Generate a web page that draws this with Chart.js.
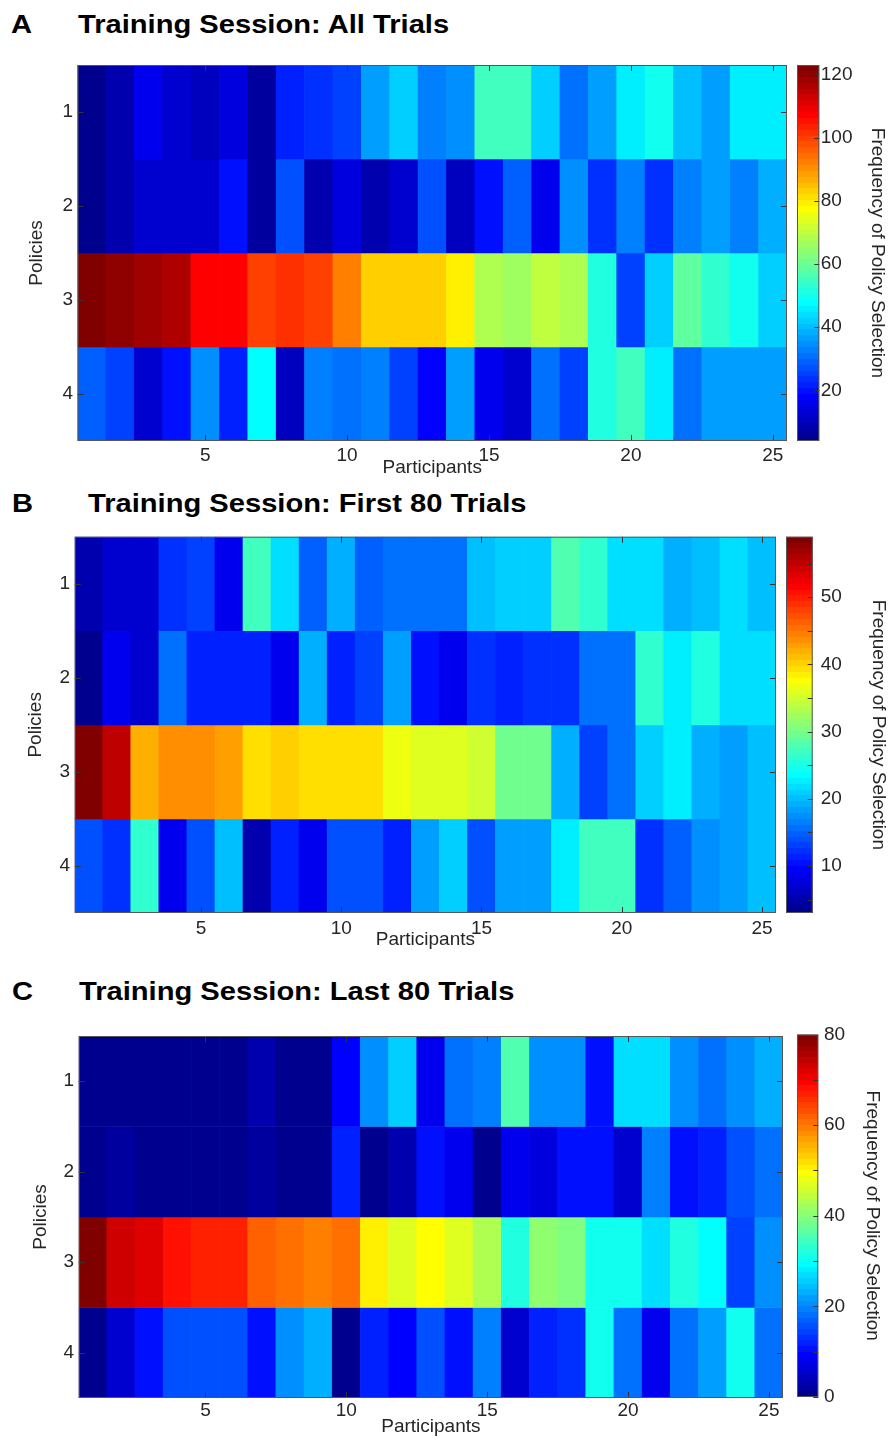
<!DOCTYPE html>
<html><head><meta charset="utf-8">
<script src="https://cdn.jsdelivr.net/npm/chart.js@4.4.1/dist/chart.umd.min.js"></script>
<style>
html,body{margin:0;padding:0;background:#fff;}
body{width:890px;height:1441px;position:relative;overflow:hidden;font-family:'Liberation Sans',Arial,sans-serif;}
canvas{position:absolute;}
.ttl{position:absolute;font-weight:bold;font-size:26px;line-height:26px;white-space:nowrap;transform:scaleX(1.12);transform-origin:0 0;color:#000;}
</style></head><body>
<div class="ttl" style="left:11px;top:11px">A</div>
<div class="ttl" style="left:78px;top:11px">Training Session: All Trials</div>
<div class="ttl" style="left:12px;top:490px">B</div>
<div class="ttl" style="left:88px;top:490px">Training Session: First 80 Trials</div>
<div class="ttl" style="left:12px;top:978px">C</div>
<div class="ttl" style="left:79px;top:978px">Training Session: Last 80 Trials</div>
<script>
// ---------- data ----------
const participants = ['1','2','3','4','5','6','7','8','9','10','11','12','13','14','15','16','17','18','19','20','21','22','23','24','25'];
const policies = [1, 2, 3, 4];
const xTickLabels = ['5','10','15','20','25'];
const yTickLabels = ['1','2','3','4'];

// A: all trials
const allP1 = [5,8,16,13,10,15,7,21,24,25,37,42,33,35,56,55,42,31,37,45,50,40,37,45,45];
const allP2 = [4,8,13,12,12,19,7,28,9,15,8,13,28,10,19,30,17,35,23,33,23,33,36,33,39];
const allP3 = [123,121,118,116,108,108,99,102,99,93,83,83,83,79,68,66,70,69,52,26,43,58,53,49,43];
const allP4 = [30,25,13,19,34,21,48,11,33,31,33,25,18,37,17,12,31,26,52,56,46,31,37,36,36];
const allRange = [4, 123];
const allCbTicks = [20, 40, 60, 80, 100, 120];
const allCbMinor = [];

// B: first 80 trials
const firstP1 = [5,7,7,12,13,9,27,22,15,19,15,16,16,16,20,21,21,28,26,22,22,19,20,22,20];
const firstP2 = [3,9,7,16,11,11,11,9,19,11,13,18,10,9,12,11,12,12,16,16,26,23,25,22,22];
const firstP3 = [59,55,42,44,44,43,39,40,39,39,39,37,36,36,35,30,30,19,13,16,21,23,19,18,20];
const firstP4 = [14,12,26,9,14,20,5,11,9,14,14,11,18,21,14,18,18,23,27,27,12,15,17,18,20];
const firstRange = [3, 59];
const firstCbTicks = [10, 20, 30, 40, 50];
const firstCbMinor = [5, 15, 25, 35, 45, 55];

// C: last 80 trials
const lastP1 = [0,0,0,0,0,0,3,0,0,9,21,25,8,18,19,36,21,21,10,27,27,21,18,21,23];
const lastP2 = [0,2,0,0,0,0,2,0,0,12,0,3,10,8,0,8,7,10,10,6,19,10,12,16,18];
const lastP3 = [80,73,72,68,67,67,62,60,59,60,50,47,49,47,43,32,41,39,31,30,27,32,29,14,21];
const lastP4 = [0,6,10,15,16,15,11,21,23,1,12,9,16,10,19,5,12,13,30,18,8,18,22,30,18];
const lastRange = [0, 80];
const lastCbTicks = [0, 20, 40, 60, 80];
const lastCbMinor = [10, 30, 50, 70];

// ---------- MATLAB jet(64) ----------
function u(k){ if (k < 1 || k > 47) return 0; if (k <= 16) return k/16; if (k <= 31) return 1; return (48-k)/16; }
function jetIndex(j){
  const r = j >= 25 ? u(j-24) : 0, g = u(j-8), b = u(j+8);
  return 'rgb(' + Math.round(r*255) + ',' + Math.round(g*255) + ',' + Math.round(b*255) + ')';
}
function colorFor(v, range){
  let j = Math.floor((v - range[0]) / (range[1] - range[0]) * 64) + 1;
  j = Math.max(1, Math.min(64, j));
  return jetIndex(j);
}

const FONT = "'Liberation Sans', Arial, sans-serif";
const TXT = '#262626';
const FS = 19;

function noPad(s){ s.paddingTop = 0; s.paddingBottom = 0; s.paddingLeft = 0; s.paddingRight = 0; }

const framePlugin = {
  id: 'frame',
  afterDraw(chart){
    const {ctx, chartArea: a, scales} = chart;
    ctx.save();
    ctx.strokeStyle = '#333';
    ctx.lineWidth = 1;
    ctx.beginPath();
    xTickLabels.forEach(l => {
      const px = Math.round(scales.x.getPixelForValue(participants.indexOf(l))) + 0.5;
      ctx.moveTo(px, a.top); ctx.lineTo(px, a.top + 6);
      ctx.moveTo(px, a.bottom); ctx.lineTo(px, a.bottom - 6);
    });
    policies.forEach(p => {
      const py = Math.round(scales.y.getPixelForValue(p)) + 0.5;
      ctx.moveTo(a.left, py); ctx.lineTo(a.left + 6, py);
      ctx.moveTo(a.right, py); ctx.lineTo(a.right - 6, py);
    });
    ctx.stroke();
    ctx.strokeStyle = '#555';
    ctx.strokeRect(a.left + 0.5, a.top + 0.5, a.right - a.left - 1, a.bottom - a.top - 1);
    ctx.restore();
  }
};

const cbFramePlugin = {
  id: 'cbframe',
  afterDraw(chart, args, opts){
    const {ctx, chartArea: a, scales} = chart;
    ctx.save();
    ctx.strokeStyle = '#333';
    ctx.lineWidth = 1;
    ctx.beginPath();
    opts.ticks.concat(opts.minor).forEach(v => {
      const py = Math.round(scales.y.getPixelForValue(v)) + 0.5;
      ctx.moveTo(a.right, py); ctx.lineTo(a.right - 5, py);
    });
    ctx.stroke();
    ctx.strokeStyle = '#555';
    ctx.strokeRect(a.left + 0.5, a.top + 0.5, a.right - a.left - 1, a.bottom - a.top - 1);
    ctx.restore();
  }
};

function addCanvas(left, top, w, h){
  const c = document.createElement('canvas');
  c.width = Math.round(w); c.height = Math.round(h);
  c.style.left = left + 'px'; c.style.top = top + 'px';
  c.style.width = Math.round(w) + 'px'; c.style.height = Math.round(h) + 'px';
  document.body.appendChild(c);
  return c;
}

function makePanel(cfg){
  const P = cfg.plot, C = cfg.cb;
  const xAxisH = 40;
  const top = Math.round(P.T) - 6;
  const cv = addCanvas(0, top, P.R + 6, (P.B - top) + xAxisH);
  new Chart(cv, {
    type: 'bar',
    data: {
      labels: participants,
      datasets: cfg.rows.map((vals, i) => ({
        data: vals.map(() => [policies[i] - 0.5, policies[i] + 0.5]),
        backgroundColor: vals.map(v => colorFor(v, cfg.range)),
        borderWidth: 0,
        barPercentage: 1,
        categoryPercentage: 1,
        grouped: false
      }))
    },
    options: {
      responsive: false, animation: false, events: [],
      layout: { padding: { left: 0, top: P.T - top, right: 6, bottom: 0 } },
      plugins: { legend: { display: false }, tooltip: { enabled: false } },
      scales: {
        x: {
          type: 'category', offset: true,
          grid: { display: false, drawTicks: false }, border: { display: false },
          ticks: {
            autoSkip: false, maxRotation: 0, minRotation: 0, padding: cfg.xTickPad, color: TXT,
            font: { family: FONT, size: FS },
            callback: (val, idx) => xTickLabels.includes(participants[idx]) ? participants[idx] : ''
          },
          title: { display: true, text: 'Participants', color: TXT, font: { family: FONT, size: FS },
                   padding: { top: 0, bottom: cfg.xTitlePad } },
          afterFit: s => { s.height = xAxisH; noPad(s); }
        },
        y: {
          type: 'linear', reverse: true, min: 0.5, max: 4.5,
          grid: { display: false, drawTicks: false }, border: { display: false },
          afterBuildTicks: s => { s.ticks = policies.map(v => ({ value: v })); },
          ticks: { padding: cfg.yTickPad, color: TXT, font: { family: FONT, size: FS },
                   callback: v => { const i = policies.indexOf(v); return i >= 0 ? yTickLabels[i] : ''; } },
          title: { display: true, text: 'Policies', color: TXT, font: { family: FONT, size: FS },
                   padding: { top: cfg.yTitlePad, bottom: 0 } },
          afterFit: s => { s.width = P.L; noPad(s); }
        }
      }
    },
    plugins: [framePlugin]
  });

  // colorbar
  const M = 16;
  const cbTop = Math.round(C.T) - M;
  const cbCanvas = addCanvas(C.L - 2, cbTop, 890 - (C.L - 2), (C.B - cbTop) + M);
  const range = cfg.range;
  new Chart(cbCanvas, {
    type: 'bar',
    data: {
      labels: ['cb'],
      datasets: [{
        data: [[range[0], range[1]]],
        backgroundColor: (ctx) => {
          const ch = ctx.chart;
          if (!ch.chartArea || !ch.scales.y) return jetIndex(32);
          const y0 = ch.scales.y.getPixelForValue(range[0]);
          const y1 = ch.scales.y.getPixelForValue(range[1]);
          const g = ch.ctx.createLinearGradient(0, y0, 0, y1);
          for (let i = 0; i < 64; i++) {
            const col = jetIndex(i + 1);
            g.addColorStop(i / 64, col);
            g.addColorStop(Math.max(0, (i + 1) / 64 - 1e-6), col);
          }
          return g;
        },
        borderWidth: 0, barPercentage: 1, categoryPercentage: 1
      }]
    },
    options: {
      responsive: false, animation: false, events: [],
      layout: { padding: { left: 2, top: C.T - cbTop, right: 0, bottom: M } },
      plugins: { legend: { display: false }, tooltip: { enabled: false },
                 cbframe: { ticks: cfg.cbTicks, minor: cfg.cbMinor } },
      scales: {
        x: { display: false },
        y: {
          position: 'right', min: range[0], max: range[1],
          grid: { display: false, drawTicks: false }, border: { display: false },
          afterBuildTicks: s => { s.ticks = cfg.cbTicks.map(v => ({ value: v })); },
          ticks: { padding: cfg.cbTickPad, color: TXT, font: { family: FONT, size: FS } },
          title: { display: true, text: 'Frequency of Policy Selection', color: TXT,
                   font: { family: FONT, size: FS }, padding: { top: cfg.cbTitlePad, bottom: 0 } },
          afterFit: s => { s.width = 890 - C.R; noPad(s); }
        }
      }
    },
    plugins: [cbFramePlugin]
  });
}

makePanel({
  rows: [allP1, allP2, allP3, allP4], range: allRange, cbTicks: allCbTicks, cbMinor: allCbMinor,
  plot: { L: 77.5, T: 65, R: 786.7, B: 441 }, cb: { L: 796.7, T: 65, R: 819.3, B: 440.5 },
  xTickPad: 3, xTitlePad: 2.2, yTickPad: 4.5, yTitlePad: 25, cbTickPad: 1.5, cbTitlePad: 1.6
});
makePanel({
  rows: [firstP1, firstP2, firstP3, firstP4], range: firstRange, cbTicks: firstCbTicks, cbMinor: firstCbMinor,
  plot: { L: 74.7, T: 536.7, R: 776, B: 913 }, cb: { L: 786, T: 536.7, R: 812.7, B: 913 },
  xTickPad: 3.9, xTitlePad: 2.2, yTickPad: 4.7, yTitlePad: 24.6, cbTickPad: 8, cbTitlePad: 0.6
});
makePanel({
  rows: [lastP1, lastP2, lastP3, lastP4], range: lastRange, cbTicks: lastCbTicks, cbMinor: lastCbMinor,
  plot: { L: 78.7, T: 1036, R: 782.7, B: 1397.5 }, cb: { L: 796.7, T: 1034.5, R: 818.3, B: 1397 },
  xTickPad: 1.1, xTitlePad: 0.2, yTickPad: 4.7, yTitlePad: 29, cbTickPad: 5.7, cbTitlePad: 6.6
});
</script>
</body></html>
